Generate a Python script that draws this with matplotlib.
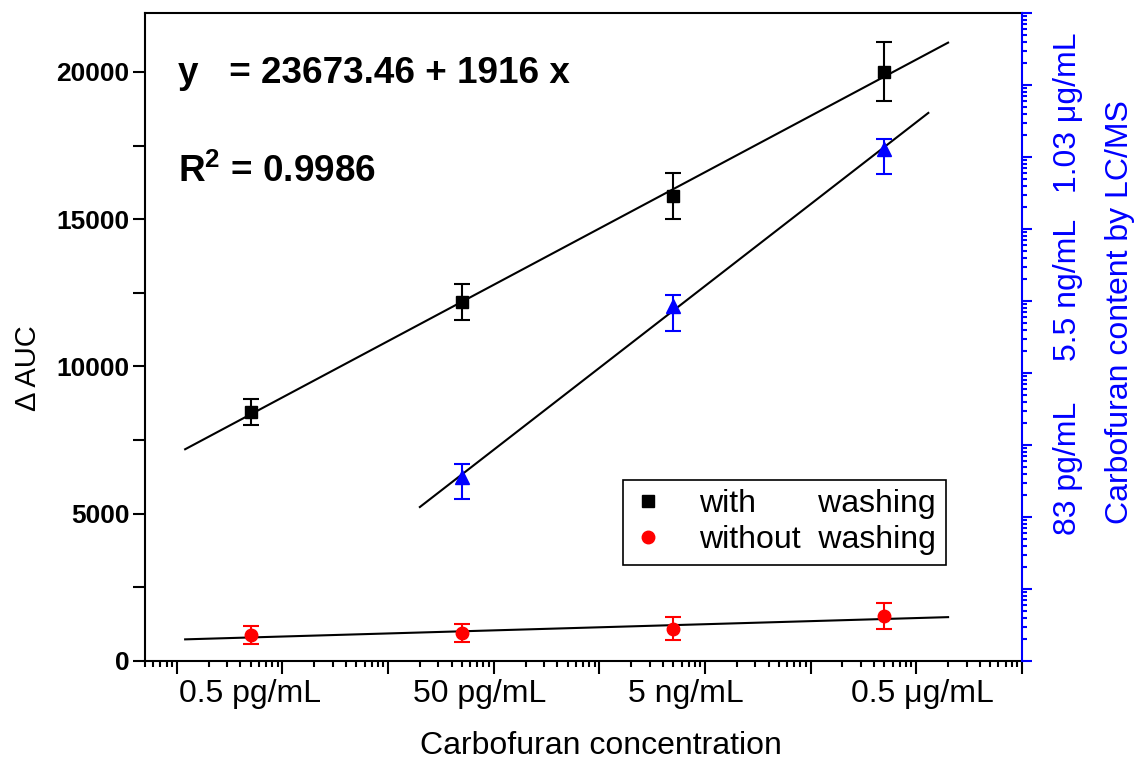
import numpy as np
import matplotlib
matplotlib.use('Agg')
import matplotlib.pyplot as plt
from matplotlib.lines import Line2D
from matplotlib.ticker import LogLocator, NullFormatter, MultipleLocator

plt.rcParams['font.family'] = ['Liberation Sans', 'DejaVu Sans']
plt.rcParams['mathtext.fontset'] = 'custom'
plt.rcParams['mathtext.rm'] = 'Liberation Sans'
plt.rcParams['mathtext.bf'] = 'Liberation Sans:bold'

# concentrations in pg/mL
conc = [0.5, 50, 5000, 5e5]
conc_labels = ['0.5 pg/mL', '50 pg/mL', '5 ng/mL', '0.5 μg/mL']

auc_wash = [8450, 12200, 15780, 20000]
err_wash = [430, 610, 790, 1000]

auc_nowash = [880, 950, 1090, 1530]
err_nowash = [300, 320, 390, 440]

conc_lcms = [50, 5000, 5e5]
auc_lcms = [6260, 12040, 17380]
err_lcms_low = [750, 850, 850]
err_lcms_up = [440, 370, 340]
lcms_labels = ['83 pg/mL', '5.5 ng/mL', '1.03 μg/mL']

fit_span = [0.12, 2e6]
fit_span_lcms = [20, 1.3e6]


def fit_line(x, y, span):
    c = np.polyfit(np.log10(x), y, 1)
    xs = np.array(span)
    return xs, np.polyval(c, np.log10(xs))


fig = plt.figure(figsize=(11.37, 7.63), dpi=100)
ax = fig.add_axes([0.1275, 0.1337, 0.7713, 0.8493])

# fitted lines
for x, y, span in [(conc, auc_wash, fit_span),
                   (conc, auc_nowash, fit_span),
                   (conc_lcms, auc_lcms, fit_span_lcms)]:
    xs, ys = fit_line(x, y, span)
    ax.plot(xs, ys, color='black', lw=1.5, zorder=2)

ax.errorbar(conc, auc_wash, yerr=err_wash, fmt='s', color='black', ms=9,
            capsize=5.5, elinewidth=1.5, capthick=1.5, zorder=3)
ax.errorbar(conc, auc_nowash, yerr=err_nowash, fmt='o', color='red', ms=9,
            capsize=5.5, elinewidth=1.5, capthick=1.5, zorder=3)
ax.errorbar(conc_lcms, auc_lcms, yerr=[err_lcms_low, err_lcms_up], fmt='^',
            color='blue', ms=10, capsize=5.5, elinewidth=1.5, capthick=1.5, zorder=3)

ax.set_xscale('log')
ax.set_xlim(0.05, 1e7)
ax.set_ylim(0, 22000)
ax.xaxis.set_major_locator(LogLocator(base=10, numticks=20))
ax.xaxis.set_minor_locator(LogLocator(base=10, subs=np.arange(2, 10), numticks=20))
ax.xaxis.set_major_formatter(NullFormatter())
ax.xaxis.set_minor_formatter(NullFormatter())
ax.set_yticks([0, 5000, 10000, 15000, 20000])
ax.yaxis.set_minor_locator(MultipleLocator(2500))
ax.tick_params(axis='x', which='major', direction='out', length=9, width=1.5)
ax.tick_params(axis='x', which='minor', direction='out', length=4.5, width=1.5)
ax.tick_params(axis='y', which='both', direction='out', length=9, width=1.5,
               labelsize=19, pad=2)
for lbl in ax.get_yticklabels():
    lbl.set_fontweight('bold')
for s in ['left', 'bottom', 'top']:
    ax.spines[s].set_linewidth(1.5)
ax.spines['right'].set_visible(False)

# concentration labels under the axis
for xf, lab in zip([0.1197, 0.382, 0.617, 0.886], conc_labels):
    ax.text(xf, -0.051, lab, transform=ax.transAxes, ha='center', va='center',
            fontsize=23)

ax.set_xlabel('Carbofuran concentration', fontsize=23)
ax.xaxis.set_label_coords(0.52, -0.108)
ax.set_ylabel('Δ AUC', fontsize=21)
ax.yaxis.set_label_coords(-0.117, 0.452)

ax.text(0.0376, 0.907, 'y   = 23673.46 + 1916 x', transform=ax.transAxes,
        fontsize=26.6, fontweight='bold', va='center', ha='left')
ax.text(0.0376, 0.755, r'R$^{\mathbf{2}}$ = 0.9986', transform=ax.transAxes,
        fontsize=26.6, fontweight='bold', va='center', ha='left')

handles = [Line2D([], [], marker='s', color='black', ls='none', ms=9),
           Line2D([], [], marker='o', color='red', ls='none', ms=9)]
leg = ax.legend(handles, ['with       washing', 'without  washing'],
                loc='lower right', bbox_to_anchor=(0.913, 0.148), fontsize=23,
                frameon=True, fancybox=False, edgecolor='black', framealpha=1,
                handlelength=1.0, handletextpad=1.1, borderpad=0.3,
                labelspacing=0.2, borderaxespad=0)
leg.get_frame().set_linewidth(1.2)

# right axis: LC/MS content
ax2 = ax.twinx()
ax2.set_yscale('log')
ax2.set_ylim(1, 1e9)
ax2.yaxis.set_major_locator(LogLocator(base=10, numticks=20))
ax2.yaxis.set_minor_locator(LogLocator(base=10, subs=np.arange(2, 10), numticks=20))
ax2.yaxis.set_major_formatter(NullFormatter())
ax2.yaxis.set_minor_formatter(NullFormatter())
ax2.tick_params(axis='y', which='major', direction='out', length=7, width=1.5, colors='blue')
ax2.tick_params(axis='y', which='minor', direction='out', length=3.5, width=1.5, colors='blue')
ax2.spines['right'].set_color('blue')
ax2.spines['right'].set_linewidth(1.5)
for s in ['left', 'bottom', 'top']:
    ax2.spines[s].set_visible(False)

for yy, lab in zip([0.298, 0.573, 0.846], lcms_labels):
    ax2.text(1.0524, yy, lab, transform=ax2.transAxes, rotation=90,
             ha='center', va='center', fontsize=23, color='blue')
ax2.text(1.112, 0.539, 'Carbofuran content by LC/MS', transform=ax2.transAxes,
         rotation=90, ha='center', va='center', fontsize=23, color='blue')

fig.savefig('out.png', dpi=100)
